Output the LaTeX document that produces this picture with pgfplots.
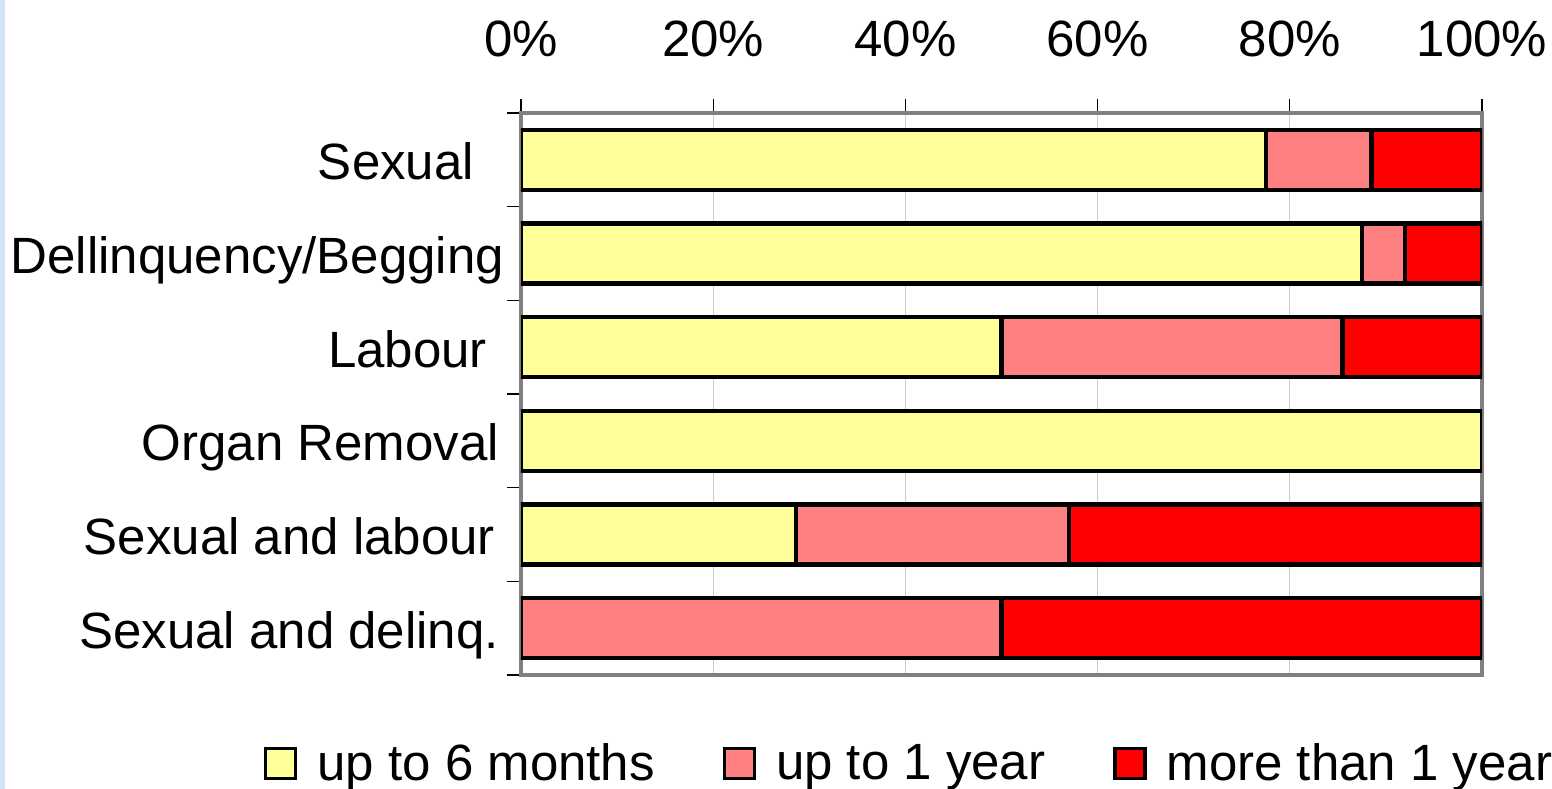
\documentclass[border=0pt]{standalone}
\usepackage{pgfplots}
\pgfplotsset{compat=1.18}
\usepackage{fontspec}
\setmainfont{Liberation Sans}
\usetikzlibrary{calc}
\definecolor{cyel}{HTML}{FFFF99}
\definecolor{cpink}{HTML}{FF8080}
\definecolor{cred}{HTML}{FF0000}
\definecolor{cframe}{HTML}{808080}
\definecolor{cgrid}{HTML}{CCCCCC}
\definecolor{cstrip}{HTML}{D2E2F7}
\begin{document}
\begin{tikzpicture}
\begin{axis}[
    name=ax,
    scale only axis,
    width=480.5pt, height=281pt,
    xbar stacked,
    bar width=30pt,
    xmin=0, xmax=100,
    ymin=-0.5, ymax=5.5,
    y dir=reverse,
    xtick={0,20,...,100},
    minor xtick={0,20,...,100},
    xticklabel={\pgfmathprintnumber{\tick}\%},
    xtick pos=right, xticklabel pos=right,
    ytick={0,...,5},
    yticklabels={Sexual\hspace*{15pt},Dellinquency/Begging,Labour\hspace*{8.5pt},Organ Removal\hspace*{2.5pt},Sexual and labour\hspace*{4.5pt},Sexual and delinq.\hspace*{2.5pt}},
    minor ytick={-0.5,0.5,...,5.5},
    ytick pos=left,
    tick align=outside,
    major tick length=0pt,
    minor tick length=7pt,
    major tick style={draw=none},
    minor tick style={black, line width=0.6pt},
    xmajorgrids,
    grid style={cgrid, line width=0.6pt},
    axis line style={cframe, line width=2pt},
    font=\fontsize{25.5}{30}\selectfont,
    /pgf/number format/assume math mode=true,
    ticklabel style={font=\fontsize{25.5}{30}\selectfont},
    xticklabel style={yshift=24.5pt},
    yticklabel style={anchor=base east, xshift=-5pt, yshift=-10pt},
    legend columns=3,
    legend style={draw=none, at={(0.405,-0.157)}, anchor=center,
        font=\fontsize{25.5}{30}\selectfont,
        /tikz/every odd column/.append style={column sep=8pt},
        /tikz/every even column/.append style={column sep=32pt}},
    legend image code/.code={\draw[#1, draw=black, line width=1.6pt] (0pt,-7.5pt) rectangle (15pt,7.5pt);},
]
\addplot[fill=cyel, draw=black, line width=2.2pt] coordinates {(77.5,0) (87.5,1) (50,2) (100,3) (28.6,4) (0,5)};
\addplot[fill=cpink, draw=black, line width=2.2pt] coordinates {(11.0,0) (4.5,1) (35.5,2) (0,3) (28.4,4) (50,5)};
\addplot[fill=cred, draw=black, line width=2.2pt] coordinates {(11.5,0) (8.0,1) (14.5,2) (0,3) (43.0,4) (50,5)};
\legend{up to 6 months, up to 1 year, more than 1 year}
\end{axis}
\pgfresetboundingbox
\path[use as bounding box] ($(ax.south west)+(-260.5pt,-57pt)$) coordinate (bl) rectangle ($(ax.north east)+(35pt,56.5pt)$) coordinate (tr);
\fill[cstrip] (bl) rectangle ($(bl|-tr)+(2.5pt,0)$);
\end{tikzpicture}
\end{document}
